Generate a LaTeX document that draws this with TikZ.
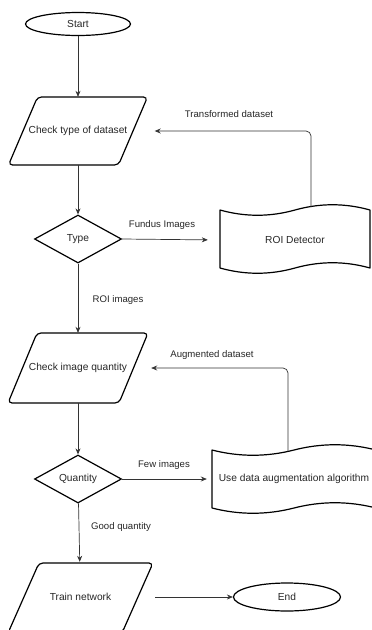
\documentclass[tikz,border=0pt]{standalone}
\usepackage{fontspec}
\setmainfont{Liberation Sans}
\usetikzlibrary{shapes.geometric,arrows.meta}
\newcommand\myparal[5]{% cx, cy, width, height, slant
  \draw[shapeline, rounded corners=4pt] (#1-#3/2,#2+#4/2) -- (#1+#3/2-#5,#2+#4/2)
    -- (#1+#3/2,#2-#4/2) -- (#1-#3/2+#5,#2-#4/2) -- cycle;}
\begin{document}
\begin{tikzpicture}[x=1pt,y=-1pt,
  every node/.style={font=\fontsize{10.2}{12}\selectfont, text=black!85},
  shapeline/.style={draw=black, line width=1.2pt},
  term/.style={shapeline, ellipse, inner sep=0pt},
  parabox/.style={inner sep=0pt},
  decision/.style={shapeline, diamond, inner sep=0pt, aspect=1.8},
  conn/.style={draw=black!80, line width=0.7pt, -{Stealth[length=6pt,width=5pt]}},
  lbl/.style={font=\fontsize{9.6}{11}\selectfont},
  tapebox/.style={shapeline, line join=round}
]
\path[use as bounding box] (0,0) rectangle (372,630);
\clip (0,0) rectangle (372,630);

% nodes
\node[term, minimum width=105, minimum height=23] (start) at (78,24) {Start};
\myparal{78}{131}{139}{68}{29}
\node[parabox, minimum width=139, minimum height=68] (ctd) at (78,131) {Check type of dataset};
\node[decision, minimum width=87, minimum height=48] (type) at (78,239) {Type};
\draw[tapebox] (220,210) .. controls (245,217) and (270,217) .. (295,210)
  .. controls (320,203) and (345,203) .. (370,210) -- (370,268)
  .. controls (345,261) and (320,261) .. (295,268)
  .. controls (270,275) and (245,275) .. (220,268) -- cycle;
\node[minimum width=150, minimum height=58] (roi) at (295,240) {ROI Detector};
\myparal{78}{368}{140}{70}{29}
\node[parabox, minimum width=140, minimum height=70] (ciq) at (78,368) {Check image quantity};
\node[decision, minimum width=87, minimum height=48] (qty) at (78,479) {Quantity};
\draw[tapebox] (212,450) .. controls (239.3,457) and (266.7,457) .. (294,450)
  .. controls (321.3,443) and (348.7,443) .. (376,450) -- (376,508)
  .. controls (348.7,501) and (321.3,501) .. (294,508)
  .. controls (266.7,515) and (239.3,515) .. (212,508) -- cycle;
\node[minimum width=164, minimum height=58] (aug) at (294,479) {Use data augmentation algorithm};
\myparal{80.5}{598}{145}{70}{31}
\node[parabox, minimum width=145, minimum height=70] (train) at (80.5,597) {Train network};
\node[term, minimum width=107, minimum height=28] (end) at (287,597) {End};

% connectors
\draw[conn] (start) -- (ctd);
\draw[conn] (ctd) -- (type);
\draw[conn, shorten >=12pt] (type.east) -- (roi.west);
\draw[conn] (type) -- (ciq);
\draw[conn] (ciq) -- (qty);
\draw[conn, shorten >=5pt] (qty.east) -- (aug.west);
\draw[conn] (qty) -- (train);
\draw[conn, shorten <=2pt] (train.east) -- (end.west);
\coordinate (roitop) at (311,207);
\draw[conn, rounded corners=5pt, shorten >=7pt] (roitop) |- (ctd.east);
\coordinate (augtop) at (288,451);
\draw[conn, rounded corners=5pt, shorten >=3pt] (augtop) |- (ciq.east);

% labels
\node[lbl] (ltrans) at (229,114) {Transformed dataset};
\node[lbl] (lfundus) at (162,225) {Fundus Images};
\node[lbl] (lroi) at (118,300) {ROI images};
\node[lbl] (laug) at (212,355) {Augmented dataset};
\node[lbl] (lfew) at (164,465) {Few images};
\node[lbl] (lgood) at (121,527) {Good quantity};
\end{tikzpicture}
\end{document}
